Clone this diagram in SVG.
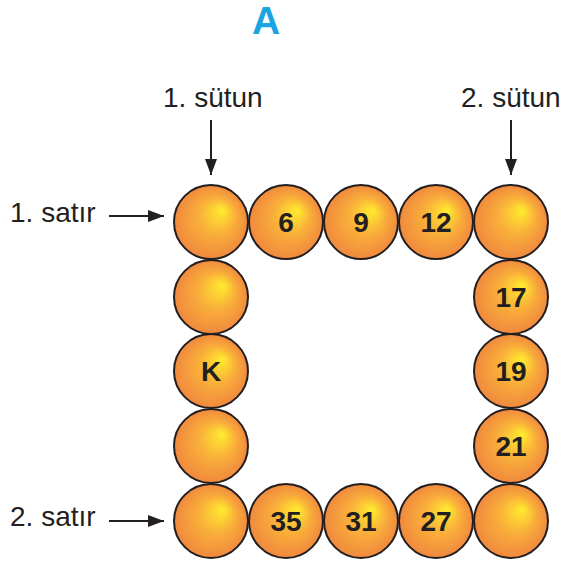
<svg xmlns="http://www.w3.org/2000/svg" width="565" height="562" viewBox="0 0 565 562">
<defs>
<radialGradient id="ball" cx="0.5" cy="0.5" r="0.5" fx="0.66" fy="0.34">
<stop offset="0" stop-color="#FFEC2E"/>
<stop offset="0.5" stop-color="#F9AE3A"/>
<stop offset="1" stop-color="#F0893E"/>
</radialGradient>
<marker id="ah" viewBox="0 0 16 12" refX="16" refY="6" markerWidth="16" markerHeight="12" markerUnits="userSpaceOnUse" orient="auto">
<path d="M0,0 L16,6 L0,12 Z" fill="#231F20"/>
</marker>
</defs>
<style>
.b{fill:url(#ball);stroke:#231F20;stroke-width:2}
.n{font-family:"Liberation Sans",Arial,sans-serif;font-weight:bold;font-size:28px;fill:#231F20;text-anchor:middle}
.l{font-family:"Liberation Sans",Arial,sans-serif;font-size:28px;fill:#231F20}
.c{stroke:#231F20;stroke-width:2;fill:none;marker-end:url(#ah)}
</style>
<rect width="565" height="562" fill="#fff"/>
<text x="266" y="34" font-family="'Liberation Sans',Arial,sans-serif" font-weight="bold" font-size="39" fill="#1BA4E2" text-anchor="middle">A</text>
<text class="l" x="163" y="107">1. sütun</text>
<text class="l" x="461" y="107">2. sütun</text>
<text class="l" x="10" y="222">1. satır</text>
<text class="l" x="10" y="526">2. satır</text>
<g id="connectors">
<path class="c" d="M211,120 V175"/>
<path class="c" d="M511,120 V175"/>
<path class="c" d="M109,216 H164"/>
<path class="c" d="M109,521 H164"/>
</g>
<g id="n1"><circle class="b" cx="211" cy="222" r="37"/></g>
<g id="n2"><circle class="b" cx="286" cy="222" r="37"/><text class="n" x="286" y="232">6</text></g>
<g id="n3"><circle class="b" cx="361" cy="222" r="37"/><text class="n" x="361" y="232">9</text></g>
<g id="n4"><circle class="b" cx="436" cy="222" r="37"/><text class="n" x="436" y="232">12</text></g>
<g id="n5"><circle class="b" cx="511" cy="222" r="37"/></g>
<g id="n6"><circle class="b" cx="211" cy="297" r="37"/></g>
<g id="n7"><circle class="b" cx="211" cy="371" r="37"/><text class="n" x="211" y="381">K</text></g>
<g id="n8"><circle class="b" cx="211" cy="446" r="37"/></g>
<g id="n9"><circle class="b" cx="511" cy="297" r="37"/><text class="n" x="511" y="307">17</text></g>
<g id="n10"><circle class="b" cx="511" cy="371" r="37"/><text class="n" x="511" y="381">19</text></g>
<g id="n11"><circle class="b" cx="511" cy="446" r="37"/><text class="n" x="511" y="456">21</text></g>
<g id="n12"><circle class="b" cx="211" cy="521" r="37"/></g>
<g id="n13"><circle class="b" cx="286" cy="521" r="37"/><text class="n" x="286" y="531">35</text></g>
<g id="n14"><circle class="b" cx="361" cy="521" r="37"/><text class="n" x="361" y="531">31</text></g>
<g id="n15"><circle class="b" cx="436" cy="521" r="37"/><text class="n" x="436" y="531">27</text></g>
<g id="n16"><circle class="b" cx="511" cy="521" r="37"/></g>
</svg>
